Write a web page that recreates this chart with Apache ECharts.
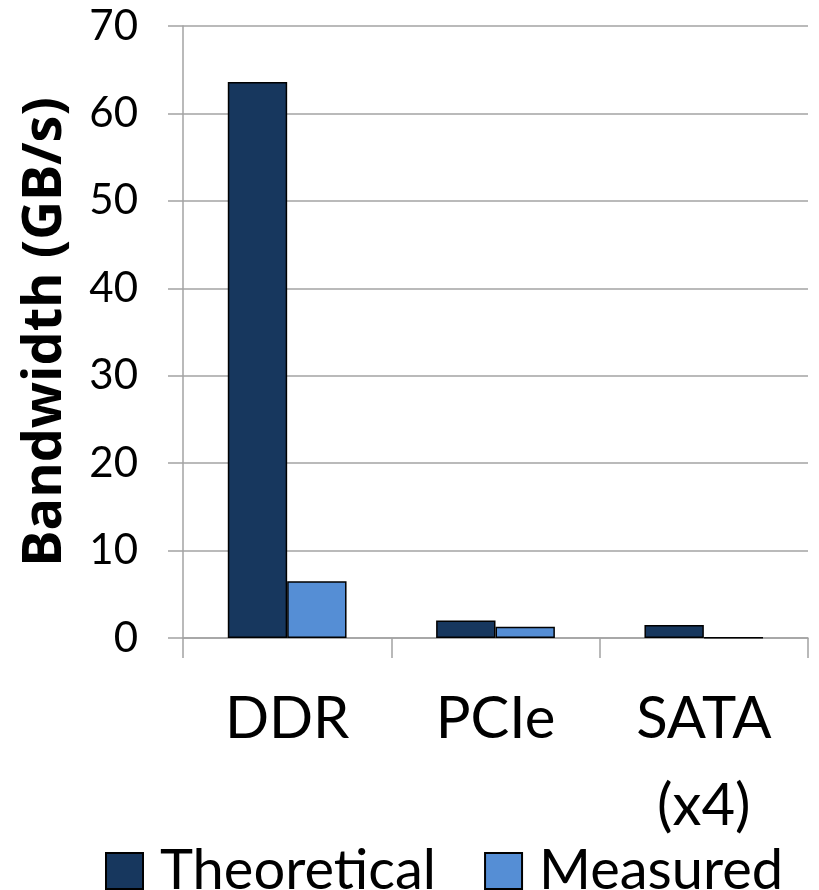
<!DOCTYPE html>
<html>
<head>
<meta charset="utf-8">
<script src="https://cdn.jsdelivr.net/npm/echarts@6/dist/echarts.min.js"></script>
<style>
  html, body { margin: 0; padding: 0; background: #fff; }
  #chart { width: 819px; height: 890px; }
</style>
</head>
<body>
<div id="chart"></div>
<script>
// Interface bandwidth, theoretical peak vs. measured (GB/s)
const categories = ['DDR', 'PCIe', 'SATA\n(x4)'];
const theoretical = [63.6, 2.0, 1.5];
const measured = [6.5, 1.3, 0.05];
const seriesNames = ['Theoretical', 'Measured'];
const yTicks = { min: 0, max: 70, interval: 10 };

const FONT = 'Lato';
const axisGray = '#a3a3a3';

const chart = echarts.init(document.getElementById('chart'), null, { renderer: 'canvas' });

chart.setOption({
  animation: false,
  backgroundColor: '#ffffff',
  grid: { left: 183, right: 11, top: 26, bottom: 252, containLabel: false, outerBoundsMode: 'none' },
  legend: {
    data: seriesNames,
    left: 100,
    top: 835,
    itemWidth: 37,
    itemHeight: 36,
    itemGap: 48,
    icon: 'rect',
    textStyle: {
      fontFamily: FONT,
      fontSize: 56,
      color: '#000',
      lineHeight: 36,
      padding: [0, 0, 26, 12]
    }
  },
  xAxis: {
    type: 'category',
    data: categories,
    axisLine: { lineStyle: { color: axisGray, width: 1.5 } },
    axisTick: { show: true, length: 20, lineStyle: { color: axisGray, width: 1.5 } },
    axisLabel: {
      fontFamily: FONT,
      fontSize: 58,
      color: '#000',
      lineHeight: 87,
      margin: 38,
      interval: 0
    }
  },
  yAxis: {
    type: 'value',
    min: yTicks.min,
    max: yTicks.max,
    interval: yTicks.interval,
    name: 'Bandwidth (GB/s)',
    nameLocation: 'middle',
    nameGap: 110,
    nameTextStyle: { fontFamily: 'Open Sans', fontSize: 54, fontWeight: 'bold', color: '#000' },
    axisLine: { show: true, lineStyle: { color: axisGray, width: 1.5 } },
    axisTick: { show: true, length: 15, lineStyle: { color: axisGray, width: 1.5 } },
    axisLabel: { fontFamily: FONT, fontSize: 42, color: '#000', margin: 45 },
    splitLine: { show: true, lineStyle: { color: axisGray, width: 1.5 } }
  },
  series: [
    {
      name: seriesNames[0],
      type: 'bar',
      data: theoretical,
      barGap: 0,
      barCategoryGap: '43%',
      itemStyle: { color: '#17375e', borderColor: '#000', borderWidth: 1.5 }
    },
    {
      name: seriesNames[1],
      type: 'bar',
      data: measured,
      barGap: 0,
      barCategoryGap: '43%',
      itemStyle: { color: '#558ed5', borderColor: '#000', borderWidth: 1.5 }
    }
  ]
});
</script>
</body>
</html>
